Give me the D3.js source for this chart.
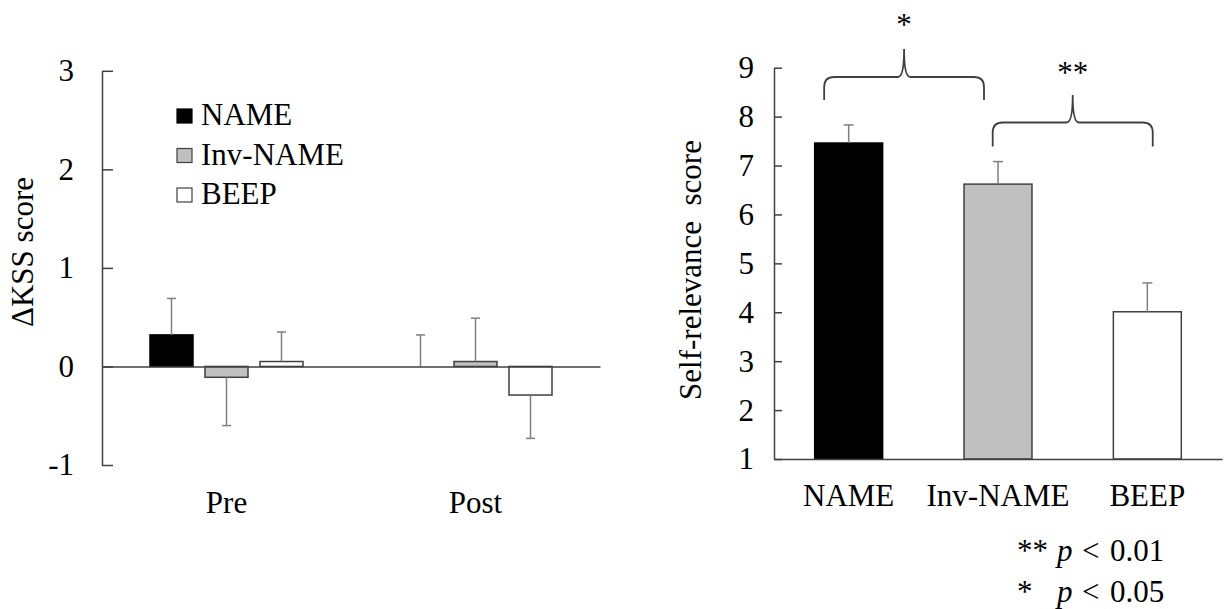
<!DOCTYPE html>
<html>
<head>
<meta charset="utf-8">
<script src="https://cdn.jsdelivr.net/npm/d3@7"></script>
<style>
	body { margin: 0; background: #fff; }
	svg text { font-family: "Liberation Serif", "Times New Roman", serif !important; font-size: 31px; fill: #000; }
</style>
</head>
<body>
<script>
'use strict';

// ---- data ----
const conditions = ["NAME", "Inv-NAME", "BEEP"];
const phases = ["Pre", "Post"];
// delta KSS means and one-sided SD per phase, in condition order
const kssPre = [0.32, -0.11, 0.05];
const kssPreErr = [0.37, 0.49, 0.30];
const kssPost = [0.0, 0.05, -0.29];
const kssPostErr = [0.32, 0.44, 0.44];
// self-relevance means and SD
const relevance = [7.46, 6.62, 4.01];
const relevanceErr = [0.37, 0.46, 0.59];
const kssTicks = [-1, 0, 1, 2, 3];
const relTicks = [1, 2, 3, 4, 5, 6, 7, 8, 9];
const braces = [
	{ from: "NAME", to: "Inv-NAME", label: "*" },
	{ from: "Inv-NAME", to: "BEEP", label: "**" }
];
const noteLines = [
	{ stars: "**", cmp: "<", val: "0.01" },
	{ stars: "*", cmp: "<", val: "0.05" }
];

// ---- layout / styles ----
const fills = { "NAME": "#000", "Inv-NAME": "#c0c0c0", "BEEP": "#fff" };
const axisColor = "#404040";
const errColor = "#7f7f7f";
const serif = '"Liberation Serif", "Times New Roman", serif';

const svg = d3.select("body").append("svg")
	.attr("width", 1226)
	.attr("height", 609)
	.attr("font-family", serif);

// make axis tick text use the page font
const styleAxis = g => {
	g.attr("font-family", null).attr("font-size", null);
	g.selectAll("path, line").attr("stroke", axisColor).attr("stroke-width", 1.5);
	g.selectAll("text").style("font-family", serif).style("font-size", "31px");
};

// ====== left panel: delta KSS ======
const kssRows = phases.flatMap((p, i) => conditions.map((c, j) => ({
	phase: p, cond: c,
	value: i === 0 ? kssPre[j] : kssPost[j],
	err: i === 0 ? kssPreErr[j] : kssPostErr[j]
})));

const yL = d3.scaleLinear().domain([-1, 3]).range([465, 70.8]);
const x0 = d3.scaleBand().domain(phases).range([102, 600]);
const x1 = d3.scaleBand().domain(conditions).range([-82.5, 82.5])
	.paddingInner(0.218).paddingOuter(0.109);

const left = svg.append("g");

left.append("g")
	.attr("transform", "translate(102,0)")
	.call(d3.axisLeft(yL).tickValues(kssTicks).tickFormat(d => String(d))
		.tickSize(-11).tickSizeOuter(0).tickPadding(28))
	.call(styleAxis);

// bars
left.append("g").selectAll("rect")
	.data(kssRows.filter(d => d.value !== 0))
	.join("rect")
		.attr("x", d => x0(d.phase) + x0.bandwidth() / 2 + x1(d.cond))
		.attr("width", x1.bandwidth())
		.attr("y", d => yL(Math.max(0, d.value)))
		.attr("height", d => Math.abs(yL(d.value) - yL(0)))
		.attr("fill", d => fills[d.cond])
		.attr("stroke", d => d.cond === "NAME" ? "#000" : axisColor)
		.attr("stroke-width", 1.5);

// error bars, drawn in the direction of the mean
const errL = left.append("g").attr("stroke", errColor).attr("stroke-width", 1.5);
kssRows.forEach(d => {
	const cx = x0(d.phase) + x0.bandwidth() / 2 + x1(d.cond) + x1.bandwidth() / 2;
	const dir = d.value < 0 ? -1 : 1;
	const y1 = yL(d.value), y2 = yL(d.value + dir * d.err);
	errL.append("line").attr("x1", cx).attr("x2", cx).attr("y1", y1).attr("y2", y2);
	errL.append("line").attr("x1", cx - 4.5).attr("x2", cx + 4.5).attr("y1", y2).attr("y2", y2);
});

// zero line acts as category axis
left.append("g")
	.attr("transform", `translate(0,${yL(0)})`)
	.call(d3.axisBottom(x0).tickSize(0).tickFormat(""))
	.call(styleAxis);

left.append("g").selectAll("text")
	.data(phases)
	.join("text")
		.attr("x", d => x0(d) + x0.bandwidth() / 2)
		.attr("y", 513)
		.attr("text-anchor", "middle")
		.text(d => d);

left.append("text")
	.attr("transform", "translate(33,252) rotate(-90)")
	.attr("text-anchor", "middle")
	.text("ΔKSS score");

// legend
const legend = left.append("g").selectAll("g")
	.data(conditions)
	.join("g")
		.attr("transform", (d, i) => `translate(177,${125 + i * 39.5})`);
legend.append("rect")
	.attr("y", -16).attr("width", 15).attr("height", 14)
	.attr("fill", d => fills[d])
	.attr("stroke", d => d === "NAME" ? "#000" : axisColor)
	.attr("stroke-width", 1.2);
legend.append("text")
	.attr("x", 24)
	.text(d => d);

// ====== right panel: self-relevance ======
const yR = d3.scaleLinear().domain([1, 9]).range([459, 67.7]);
const xR = d3.scaleBand().domain(conditions).range([774, 1222])
	.paddingInner(0.545).paddingOuter(0.2725);

const right = svg.append("g");

right.append("g")
	.attr("transform", "translate(774,0)")
	.call(d3.axisLeft(yR).tickValues(relTicks).tickFormat(d => String(d))
		.tickSize(-8).tickSizeOuter(0).tickPadding(20))
	.call(styleAxis);

right.append("g").selectAll("rect")
	.data(conditions)
	.join("rect")
		.attr("x", d => xR(d))
		.attr("width", xR.bandwidth())
		.attr("y", (d, i) => yR(relevance[i]))
		.attr("height", (d, i) => yR(1) - yR(relevance[i]))
		.attr("fill", d => fills[d])
		.attr("stroke", d => d === "NAME" ? "#000" : axisColor)
		.attr("stroke-width", 1.5);

const errR = right.append("g").attr("stroke", errColor).attr("stroke-width", 1.5);
conditions.forEach((c, i) => {
	const cx = xR(c) + xR.bandwidth() / 2;
	const y1 = yR(relevance[i]), y2 = yR(relevance[i] + relevanceErr[i]);
	errR.append("line").attr("x1", cx).attr("x2", cx).attr("y1", y1).attr("y2", y2);
	errR.append("line").attr("x1", cx - 5).attr("x2", cx + 5).attr("y1", y2).attr("y2", y2);
});

right.append("g")
	.attr("transform", `translate(0,${yR(1)})`)
	.call(d3.axisBottom(xR).tickSize(0).tickFormat(""))
	.call(styleAxis);

right.append("g").selectAll("text")
	.data(conditions)
	.join("text")
		.attr("x", d => xR(d) + xR.bandwidth() / 2)
		.attr("y", 506)
		.attr("text-anchor", "middle")
		.text(d => d);

right.append("text")
	.attr("transform", "translate(701,270) rotate(-90)")
	.attr("text-anchor", "middle")
	.attr("xml:space", "preserve")
	.style("white-space", "pre")
	.text("Self-relevance  score");

// significance braces: [left offset, right offset] from band centres, and value levels
const braceGeom = [
	{ dx: [-24.5, -14], foot: 8.34, bar: 8.81, peak: 9.38, textY: 35 },
	{ dx: [-5.3, 5.4], foot: 7.39, bar: 7.88, peak: 8.44, textY: 83 }
];
const bracePath = (xa, xb, yf, yb, yp) => {
	const p = d3.path();
	const xm = (xa + xb) / 2, r = 10;
	p.moveTo(xa, yf);
	p.lineTo(xa, yb + r);
	p.quadraticCurveTo(xa, yb, xa + r, yb);
	p.lineTo(xm - 6, yb);
	p.quadraticCurveTo(xm, yb, xm, yp);
	p.quadraticCurveTo(xm, yb, xm + 6, yb);
	p.lineTo(xb - r, yb);
	p.quadraticCurveTo(xb, yb, xb, yb + r);
	p.lineTo(xb, yf);
	return p.toString();
};
braces.forEach((b, i) => {
	const g = braceGeom[i];
	const xa = xR(b.from) + xR.bandwidth() / 2 + g.dx[0];
	const xb = xR(b.to) + xR.bandwidth() / 2 + g.dx[1];
	right.append("path")
		.attr("d", bracePath(xa, xb, yR(g.foot), yR(g.bar), yR(g.peak)))
		.attr("fill", "none")
		.attr("stroke", axisColor)
		.attr("stroke-width", 1.8);
	right.append("text")
		.attr("x", (xa + xb) / 2)
		.attr("y", g.textY)
		.attr("text-anchor", "middle")
		.text(b.label);
});

// p-value note
noteLines.forEach((n, i) => {
	const t = right.append("text").attr("y", 561 + i * 41);
	t.append("tspan").attr("x", 1017).text(n.stars);
	t.append("tspan").attr("x", 1057).attr("font-style", "italic").text("p");
	t.append("tspan").attr("x", 1082).text(n.cmp);
	t.append("tspan").attr("x", 1110).text(n.val);
});
</script>
</body>
</html>
